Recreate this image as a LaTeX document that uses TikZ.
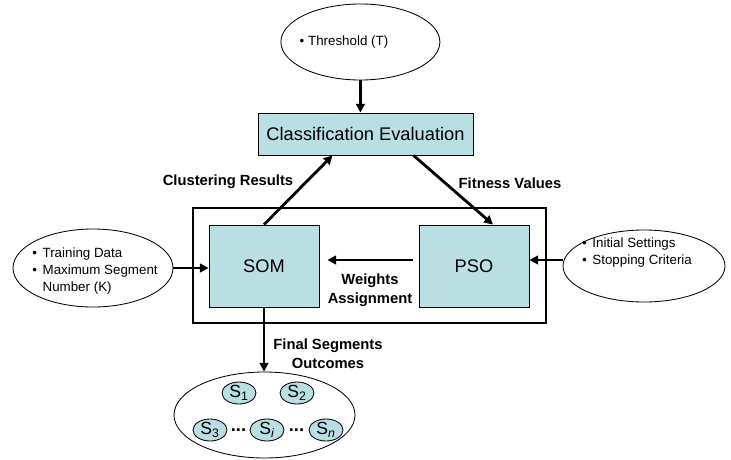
\documentclass[tikz,border=0pt]{standalone}
\usepackage{fontspec}
\setmainfont{Liberation Sans}
\usepackage{tikz}
\usetikzlibrary{arrows.meta,positioning,shapes.geometric,calc}
\definecolor{segFill}{RGB}{186,223,226}

\begin{document}
\begin{tikzpicture}[
  every node/.style={font=\fontsize{9.5}{12}\selectfont},
  unit/.style={draw,line width=0.6pt,fill=segFill,
               minimum width=2.75cm,minimum height=2.05cm,
               font=\fontsize{13}{15}\selectfont},
  oval/.style={draw,line width=0.6pt,ellipse},
  seg/.style={draw,line width=0.6pt,ellipse,fill=segFill,inner sep=0pt,
              minimum width=0.85cm,minimum height=0.55cm,
              font=\fontsize{12.5}{14}\selectfont},
  flow/.style={-{Triangle[length=2.2mm,width=2.2mm]},line width=2pt},
  lbl/.style={font=\bfseries\fontsize{10.5}{13.5}\selectfont,align=center}
]
\useasboundingbox (0,0) rectangle (18.275,11.475);

% threshold and evaluation
\node[oval,minimum width=3.975cm,minimum height=1.9cm] (thr) at (9.01,10.425) {};
\node (thrtxt) at (8.6,10.425) {\textbullet\ Threshold (T)};
\node[draw,line width=0.6pt,fill=segFill,minimum width=5.375cm,minimum height=1.05cm,
      font=\fontsize{13}{15}\selectfont] (cls) at (9.1375,8.125) {Classification Evaluation};

% hybrid core
\node[draw,line width=1pt,minimum width=8.825cm,minimum height=2.875cm] (core) at (9.2375,4.8375) {};
\node[unit] (SOM) at (6.6,4.825) {SOM};
\node[unit] (PSO) at (11.85,4.825) {PSO};

% inputs
\node[oval,minimum width=4cm,minimum height=1.95cm] (lin) at (2.325,4.775) {};
\node (lintxt) at (2.375,4.7)
  {\begin{tabular}{@{}l@{\hspace{4pt}}l@{}}\textbullet & Training Data\\
   \textbullet & Maximum Segment\\ & Number (K)\end{tabular}};
\node[oval,minimum width=4.05cm,minimum height=1.8cm] (rin) at (16.1,4.825) {};
\node (rintxt) at (15.925,5.15)
  {\begin{tabular}{@{}l@{\hspace{4pt}}l@{}}\textbullet & Initial Settings\\
   \textbullet & Stopping Criteria\end{tabular}};

% outcomes
\node[oval,minimum width=4.525cm,minimum height=2.15cm] (outs) at (6.6125,1.1) {};
\node[seg] (S1) at (5.975,1.65) {S\textsubscript{1}};
\node[seg] (S2) at (7.425,1.65) {S\textsubscript{2}};
\node[seg] (S3) at (5.25,0.725) {S\textsubscript{3}};
\node[seg] (Si) at (6.675,0.725) {S\textsubscript{\itshape i}};
\node[seg] (Sn) at (8.15,0.725) {S\textsubscript{\itshape n}};
\node[inner sep=0pt,font=\bfseries\fontsize{13}{13}\selectfont] (dotsA) at ($(S3)!0.5!(Si)$) {...};
\node[inner sep=0pt,font=\bfseries\fontsize{13}{13}\selectfont] (dotsB) at ($(Si)!0.5!(Sn)$) {...};

% connectors
\draw[flow] (thr.south) -- (thr.south |- cls.north);
\draw[flow] (SOM.north) -- ([xshift=-0.825cm]cls.south);
\draw[flow] ([xshift=1.2cm]cls.south) -- ([xshift=0.475cm]PSO.north);
\draw[flow,shorten <=0.15cm,shorten >=0.2cm] ([yshift=0.15cm]PSO.west) -- ([yshift=0.15cm]SOM.east);
\draw[flow] (lin.east) -- (lin.east -| SOM.west);
\draw[flow] ([yshift=0.15cm]PSO.east -| rin.west) -- ([yshift=0.15cm]PSO.east);
\draw[flow] (SOM.south) -- (SOM.south |- outs.north);

% labels
\node[lbl] (clres) at (5.7,6.925) {Clustering Results};
\node[lbl] (fitval) at (12.75,6.9) {Fitness Values};
\node[lbl] (wasg) at (9.25,4.225) {Weights\\Assignment};
\node[lbl] (finseg) at (8.2,2.625) {Final Segments\\Outcomes};
\end{tikzpicture}
\end{document}
